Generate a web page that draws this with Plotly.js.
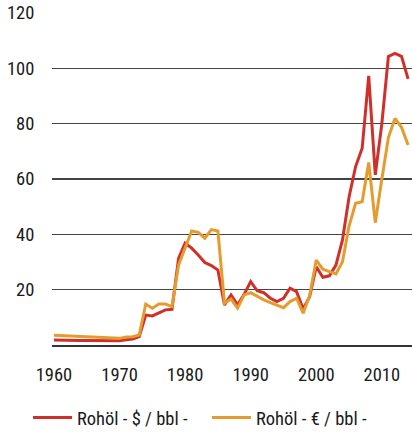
<!DOCTYPE html>
<html>
<head>
<meta charset="utf-8">
<script src="https://cdn.plot.ly/plotly-3.0.1.min.js"></script>
<style>
html,body{margin:0;padding:0;background:#fff;}
#chart{width:412px;height:435px;}
</style>
</head>
<body>
<div id="chart"></div>
<script>
const years = [1960,1961,1962,1963,1964,1965,1966,1967,1968,1969,1970,1971,1972,1973,1974,1975,1976,1977,1978,1979,1980,1981,1982,1983,1984,1985,1986,1987,1988,1989,1990,1991,1992,1993,1994,1995,1996,1997,1998,1999,2000,2001,2002,2003,2004,2005,2006,2007,2008,2009,2010,2011,2012,2013,2014];
const usdPerBbl = [1.8,1.7,1.7,1.7,1.6,1.6,1.6,1.6,1.6,1.5,1.5,1.9,2.2,3.0,10.8,10.5,11.7,12.7,12.9,31.3,36.8,35.0,32.5,29.8,28.7,27.1,14.5,18.1,14.5,18.3,22.9,19.6,18.9,16.9,15.7,16.9,20.5,19.3,13.0,17.5,28.3,24.5,25.0,28.9,38.0,53.5,64.5,71.1,97.3,61.5,80.0,104.3,105.4,104.3,96.2];
const eurPerBbl = [3.5,3.4,3.3,3.2,3.1,3.0,2.9,2.9,2.8,2.6,2.4,2.9,3.0,3.6,14.8,13.3,14.8,14.8,13.9,28.9,35.0,41.2,40.7,38.6,41.7,41.2,15.1,16.6,13.3,18.1,18.9,17.5,16.3,15.3,14.5,13.5,15.7,16.9,11.5,18.0,30.7,27.4,26.5,25.7,30.1,43.0,51.2,51.8,66.0,44.2,60.0,75.0,81.9,78.7,72.3];
const seriesNames = ["Rohöl - $ / bbl -", "Rohöl - € / bbl -"];
const seriesColors = ["#d0302a", "#e59c2e"];
const yTicks = [20,40,60,80,100,120];
const xTicks = [1960,1970,1980,1990,2000,2010];

const font = "'Liberation Sans Narrow', 'Roboto Condensed', 'Liberation Sans', Arial, sans-serif";

const data = [
  {x: years, y: usdPerBbl, name: seriesNames[0], type: 'scatter', mode: 'lines', line: {color: seriesColors[0], width: 3}},
  {x: years, y: eurPerBbl, name: seriesNames[1], type: 'scatter', mode: 'lines', line: {color: seriesColors[1], width: 3}}
];

const layout = {
  width: 412, height: 435,
  margin: {l: 52, r: 0, t: 13, b: 90},
  paper_bgcolor: '#fff', plot_bgcolor: '#fff',
  font: {family: font, size: 18.5, color: '#1a1a1a'},
  showlegend: true,
  legend: {orientation: 'h', xref: 'container', yref: 'container', x: 0.068, y: 0.039, xanchor: 'left', yanchor: 'middle',
           itemwidth: 39, entrywidth: 125, entrywidthmode: 'pixels', font: {family: font, size: 18.5, color: '#1a1a1a'}},
  xaxis: {range: [1959.7, 2014.6], tickvals: xTicks, ticktext: xTicks.map(String), automargin: false,
          showgrid: false, zeroline: false, showline: true, linecolor: '#333', linewidth: 2,
          ticks: 'outside', ticklen: 12, tickcolor: 'rgba(0,0,0,0)', fixedrange: true},
  yaxis: {range: [0, 120], tickvals: yTicks, ticktext: yTicks.map(String), automargin: false,
          showgrid: true, gridcolor: '#444', gridwidth: 1.5, zeroline: false, showline: false,
          ticks: 'outside', ticklen: 13, tickcolor: 'rgba(0,0,0,0)', fixedrange: true}
};

Plotly.newPlot('chart', data, layout, {staticPlot: true});
</script>
</body>
</html>
